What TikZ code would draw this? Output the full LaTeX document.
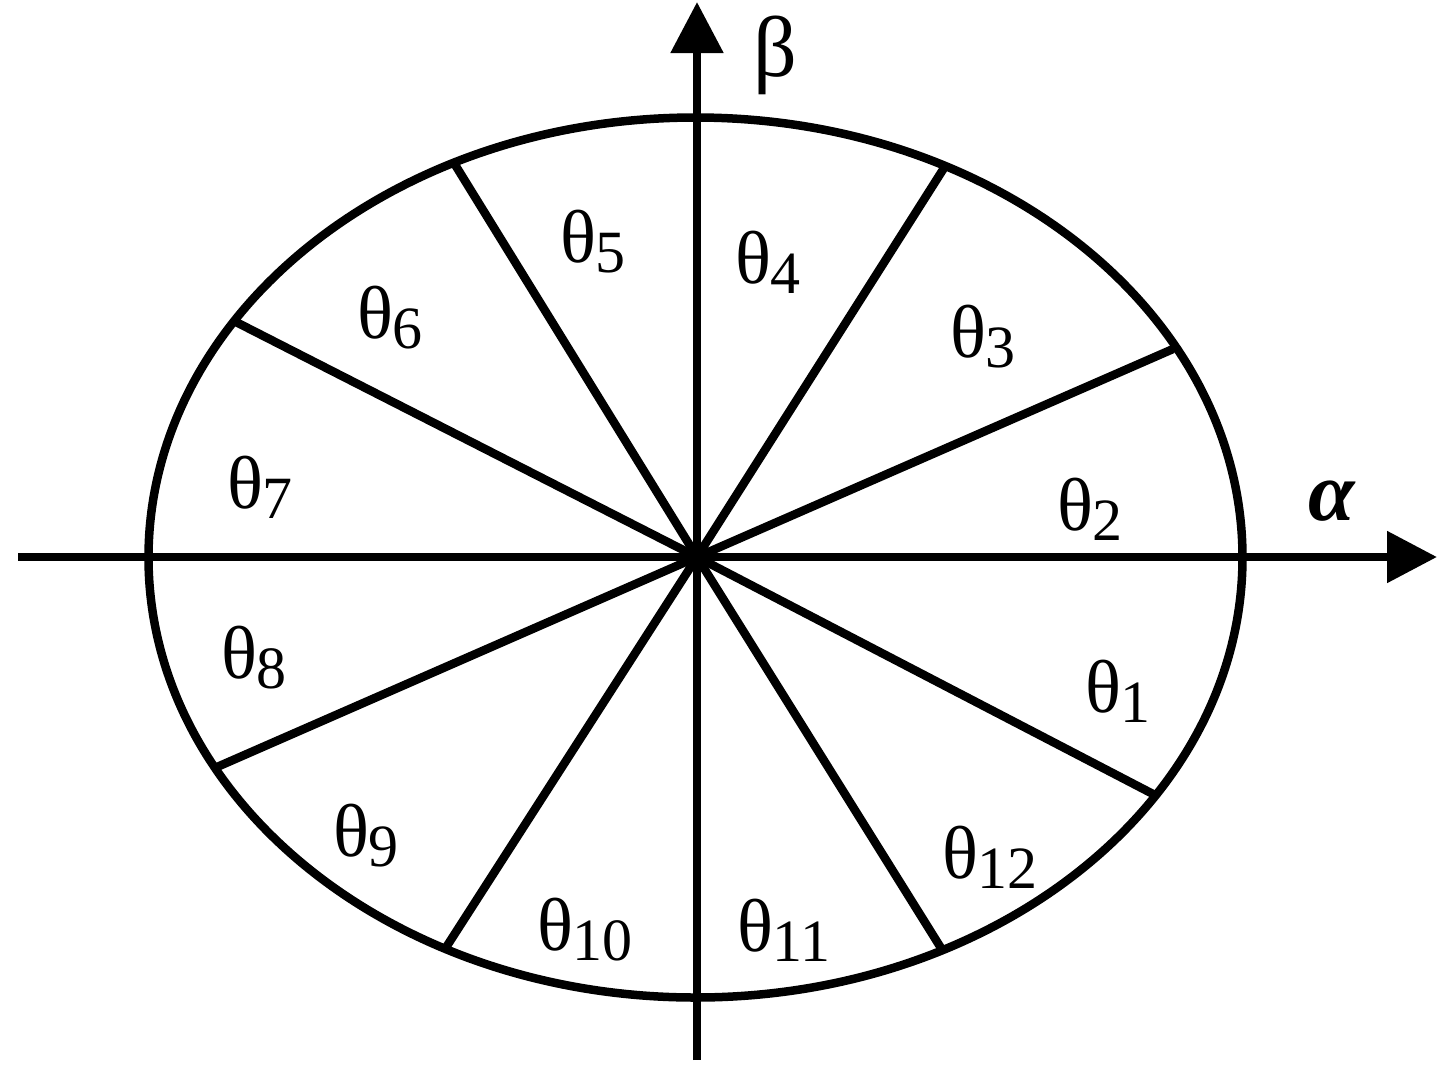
\documentclass[tikz,border=0pt]{standalone}
\usepackage{fontspec}
\setmainfont{Liberation Serif}
\usetikzlibrary{arrows.meta}
\newcommand{\thlab}[1]{\fontsize{75}{75}\selectfont θ\raisebox{-10pt}{\fontsize{60}{60}\selectfont #1}}
\begin{document}
\begin{tikzpicture}[x=1pt,y=-1pt,
  thick line/.style={line width=8.5pt},
  lab/.style={anchor=base west,inner sep=0pt,outer sep=0pt}]
\useasboundingbox (0,0) rectangle (1450,1072);
\coordinate (O) at (697,557);
% ellipse
\draw[thick line] (695.5,557.5) ellipse [x radius=547, y radius=440];
% axes
\coordinate (xl) at (18,557);
\coordinate (xr) at (1437,557);
\coordinate (yb) at (697,1060);
\coordinate (yt) at (697,2);
\draw[thick line,-{Triangle[length=50pt,width=50pt]}] (xl) -- (xr);
\draw[thick line,-{Triangle[length=51pt,width=51pt]}] (yb) -- (yt);
% spokes
\coordinate (s1) at (1173,349);
\coordinate (s2) at (944,168);
\coordinate (s3) at (454,163);
\coordinate (s4) at (236,322);
\coordinate (s5) at (217,767);
\coordinate (s6) at (445,949);
\coordinate (s7) at (941,948);
\coordinate (s8) at (1153,794);
\foreach \s in {s1,s2,s3,s4,s5,s6,s7,s8}{\draw[thick line] (O) -- (\s);}
% labels
\node[lab] (t1) at (1085,712) {\thlab{1}};
\node[lab] (t2) at (1057,530) {\thlab{2}};
\node[lab] (t3) at (950,357) {\thlab{3}};
\node[lab] (t4) at (735,283) {\thlab{4}};
\node[lab] (t5) at (560,262) {\thlab{5}};
\node[lab] (t6) at (357,338) {\thlab{6}};
\node[lab] (t7) at (227,508) {\thlab{7}};
\node[lab] (t8) at (221,678) {\thlab{8}};
\node[lab] (t9) at (333,856) {\thlab{9}};
\node[lab] (t10) at (537,950) {\thlab{10}};
\node[lab] (t11) at (737,951) {\thlab{11}};
\node[lab] (t12) at (942,878) {\thlab{12}};
\node[lab] (beta) at (753,76) {\fontsize{86}{86}\selectfont β};
\node[lab] (alpha) at (1308,520) {\fontsize{84}{84}\selectfont\bfseries\itshape α};
\end{tikzpicture}
\end{document}
